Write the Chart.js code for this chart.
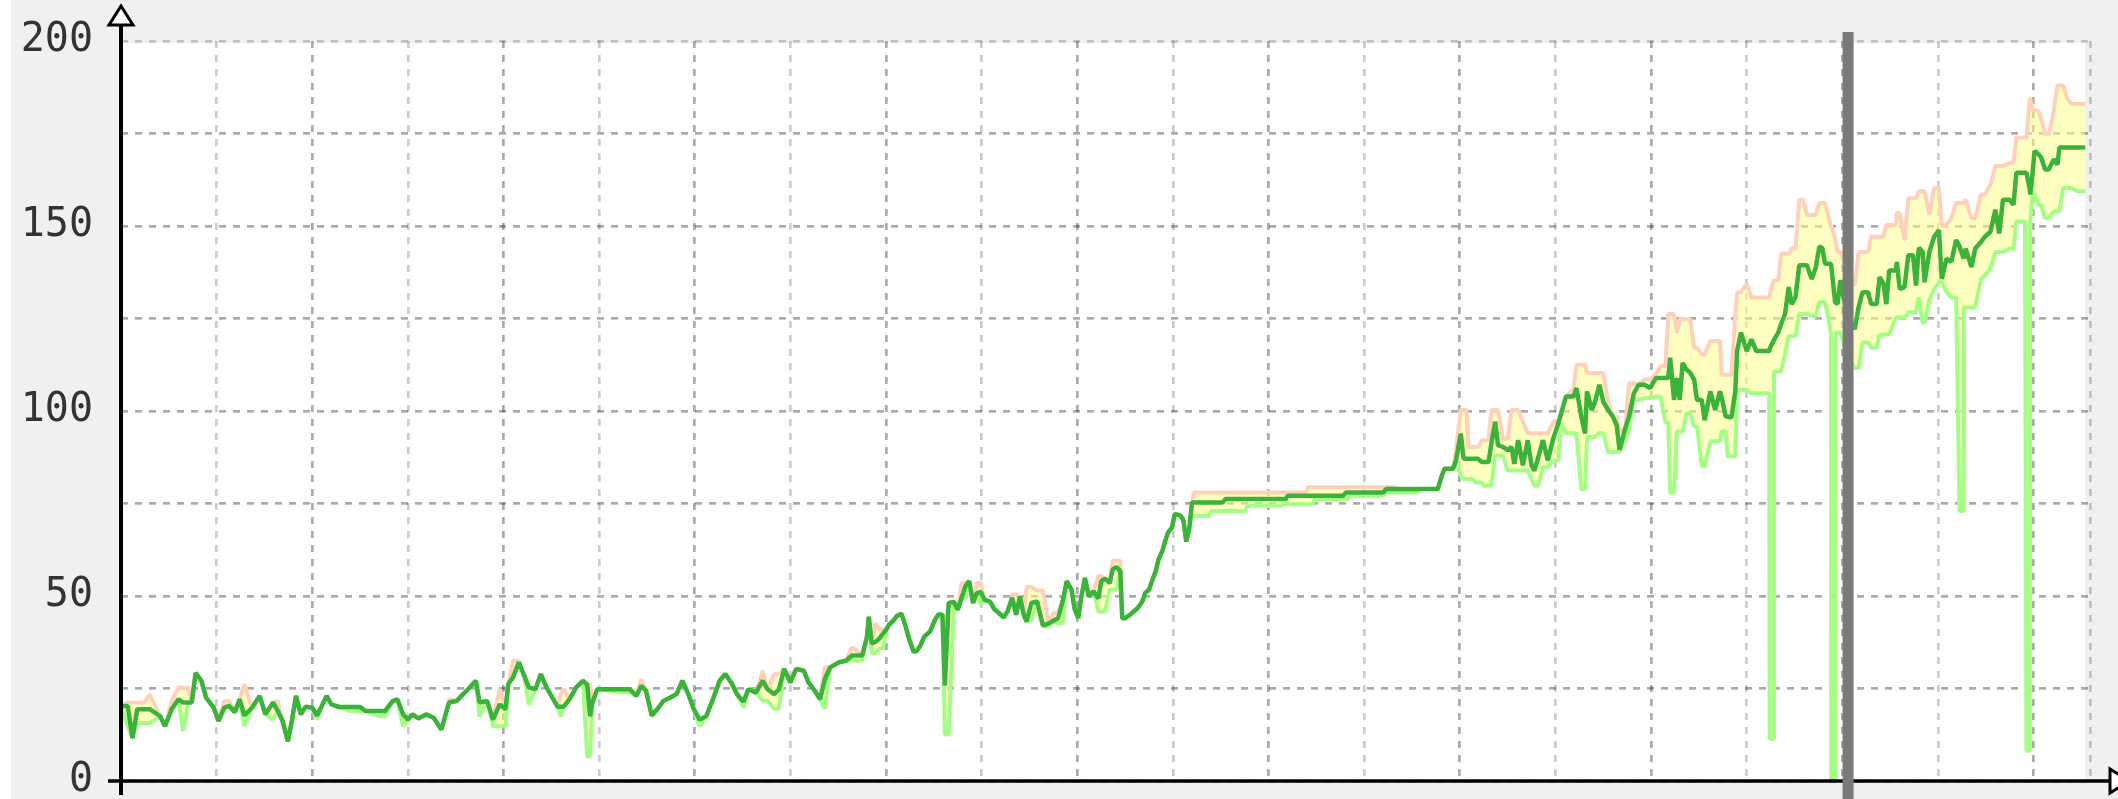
<!DOCTYPE html>
<html>
<head>
<meta charset="utf-8">
<script src="https://cdn.jsdelivr.net/npm/chart.js@4.4.1/dist/chart.umd.min.js"></script>
<style>
  html, body { margin: 0; padding: 0; background: #f0f0f0; }
  #wrap { width: 2118px; height: 799px; }
  canvas { display: block; }
</style>
</head>
<body>
<div id="wrap"><canvas id="chart" width="2118" height="799"></canvas></div>
<script>
// Sample times (one unit = one vertical grid division)
const times = [
  0.00, 0.07, 0.12, 0.17, 0.24, 0.30, 0.41, 0.46, 0.53, 0.60,
  0.65, 0.70, 0.74, 0.78, 0.84, 0.89, 0.97, 1.02, 1.08, 1.13,
  1.19, 1.24, 1.29, 1.37, 1.45, 1.51, 1.59, 1.64, 1.69, 1.745,
  1.79, 1.83, 1.88, 1.93, 2.00, 2.05, 2.10, 2.15, 2.20, 2.28,
  2.40, 2.50, 2.56, 2.70, 2.76, 2.84, 2.89, 2.95, 3.00, 3.05,
  3.11, 3.19, 3.27, 3.35, 3.43, 3.51, 3.56, 3.63, 3.71, 3.75,
  3.83, 3.89, 3.96, 4.02, 4.05, 4.10, 4.16, 4.21, 4.265, 4.335,
  4.39, 4.45, 4.50, 4.565, 4.60, 4.63, 4.69, 4.76, 4.83, 4.875,
  4.905, 4.93, 4.98, 5.22, 5.32, 5.39, 5.44, 5.49, 5.55, 5.62,
  5.67, 5.74, 5.81, 5.87, 5.94, 5.99, 6.05, 6.12, 6.19, 6.26,
  6.32, 6.39, 6.44, 6.51, 6.56, 6.64, 6.71, 6.76, 6.83, 6.88,
  6.935, 7.00, 7.06, 7.14, 7.19, 7.255, 7.31, 7.36, 7.415, 7.51,
  7.58, 7.645, 7.75, 7.80, 7.82, 7.85, 7.89, 7.93, 7.97, 8.00,
  8.03, 8.08, 8.11, 8.16, 8.20, 8.25, 8.29, 8.32, 8.36, 8.40,
  8.46, 8.51, 8.55, 8.59, 8.615, 8.655, 8.71, 8.75, 8.79, 8.83,
  8.87, 8.91, 8.95, 8.99, 9.03, 9.09, 9.13, 9.18, 9.23, 9.27,
  9.32, 9.36, 9.40, 9.44, 9.47, 9.52, 9.58, 9.64, 9.70, 9.75,
  9.80, 9.85, 9.89, 9.94, 9.97, 10.01, 10.04, 10.08, 10.12, 10.17,
  10.22, 10.25, 10.29, 10.34, 10.37, 10.41, 10.45, 10.47, 10.50, 10.55,
  10.59, 10.63, 10.68, 10.71, 10.75, 10.78, 10.82, 10.85, 10.89, 10.92,
  10.95, 10.99, 11.02, 11.08, 11.11, 11.14, 11.17, 11.20, 11.22, 11.38,
  11.40, 11.52, 11.55, 11.76, 11.78, 12.13, 12.15, 12.18, 12.20, 12.39,
  12.41, 12.46, 12.48, 12.78, 12.81, 12.83, 12.85, 13.20, 13.23, 13.32,
  13.34, 13.55, 13.57, 13.77, 13.80, 13.84, 13.93, 13.96, 14.01, 14.04,
  14.07, 14.09, 14.14, 14.16, 14.19, 14.23, 14.25, 14.30, 14.33, 14.37,
  14.40, 14.45, 14.50, 14.54, 14.57, 14.61, 14.66, 14.71, 14.75, 14.78,
  14.82, 14.87, 14.92, 14.98, 15.03, 15.06, 15.11, 15.19, 15.22, 15.27,
  15.31, 15.33, 15.38, 15.41, 15.46, 15.50, 15.55, 15.60, 15.64, 15.67,
  15.73, 15.77, 15.82, 15.87, 15.93, 15.99, 16.05, 16.10, 16.15, 16.18,
  16.20, 16.24, 16.27, 16.30, 16.33, 16.37, 16.41, 16.45, 16.48, 16.53,
  16.56, 16.62, 16.67, 16.72, 16.74, 16.78, 16.80, 16.84, 16.88, 16.90,
  16.94, 17.00, 17.05, 17.10, 17.235, 17.24, 17.28, 17.285, 17.33, 17.36,
  17.40, 17.44, 17.47, 17.51, 17.55, 17.59, 17.63, 17.68, 17.72, 17.76,
  17.79, 17.82, 17.88, 17.885, 17.925, 17.93, 17.95, 17.98, 18.05, 18.13,
  18.17, 18.21, 18.27, 18.30, 18.36, 18.39, 18.43, 18.46, 18.49, 18.56,
  18.57, 18.60, 18.65, 18.69, 18.74, 18.77, 18.80, 18.84, 18.86, 18.91,
  18.96, 19.01, 19.04, 19.09, 19.14, 19.19, 19.225, 19.265, 19.27, 19.29,
  19.35, 19.39, 19.45, 19.49, 19.55, 19.60, 19.64, 19.68, 19.75, 19.79,
  19.82, 19.91, 19.925, 19.96, 19.965, 19.99, 20.01, 20.05, 20.08, 20.12,
  20.16, 20.21, 20.25, 20.27, 20.31, 20.35, 20.40, 20.46, 20.54
];

// Average per sample
const avgValues = [
  20.3, 20.3, 11.6, 19.4, 19.4, 19.4, 17.5, 14.8, 19.4, 22.1,
  21.2, 21.2, 21.2, 29.2, 27.1, 22.5, 19.8, 16.2, 19.8, 20.3,
  18.6, 22.1, 17.7, 19.8, 23.0, 18.0, 21.2, 18.9, 16.2, 10.7,
  16.8, 23.0, 18.0, 20.1, 19.8, 17.7, 20.3, 23.0, 20.7, 20.0,
  20.0, 20.0, 18.9, 18.9, 18.9, 21.6, 22.1, 18.0, 16.6, 18.0,
  16.9, 18.0, 17.1, 13.9, 21.2, 21.6, 23.0, 24.8, 27.1, 21.2,
  21.6, 16.6, 20.7, 19.4, 26.2, 28.0, 32.1, 28.9, 25.3, 24.8,
  28.9, 25.3, 23.0, 20.1, 20.1, 20.1, 22.1, 25.3, 27.1, 26.0,
  17.5, 21.2, 24.8, 24.8, 24.8, 23.0, 25.7, 24.4, 17.7, 19.8,
  21.6, 22.5, 23.5, 27.1, 23.0, 19.4, 16.6, 17.5, 22.1, 27.1,
  28.9, 26.2, 23.5, 21.4, 24.8, 23.9, 27.1, 24.8, 23.5, 24.8,
  30.3, 26.6, 30.3, 29.8, 26.6, 24.4, 22.1, 27.5, 30.7, 32.1,
  32.5, 33.9, 33.9, 38.9, 44.4, 37.2, 37.6, 38.5, 39.9, 40.8,
  42.2, 43.5, 44.5, 45.2, 42.2, 37.6, 34.9, 35.1, 36.7, 39.0,
  40.4, 43.5, 45.1, 44.9, 25.8, 48.1, 48.4, 46.3, 49.5, 52.6,
  54.0, 48.1, 50.8, 51.1, 49.0, 48.4, 46.5, 45.4, 44.2, 45.8,
  49.5, 44.9, 49.9, 44.9, 43.1, 48.1, 48.5, 42.0, 42.6, 43.3,
  44.0, 49.0, 54.0, 51.7, 46.7, 44.0, 49.5, 54.9, 49.9, 51.3,
  49.3, 54.0, 54.7, 53.5, 57.2, 57.8, 56.7, 44.0, 44.0, 44.9,
  45.8, 46.7, 48.5, 50.8, 51.7, 54.0, 56.7, 59.9, 62.2, 64.9,
  67.2, 68.5, 72.2, 71.7, 70.4, 64.7, 68.1, 75.3, 75.3, 75.3,
  75.3, 75.3, 76.2, 76.2, 76.2, 76.2, 76.2, 76.2, 77.1, 77.1,
  77.1, 77.1, 77.1, 77.1, 78.0, 78.0, 78.0, 78.0, 78.9, 78.9,
  78.9, 78.9, 78.9, 78.9, 81.6, 84.4, 84.4, 86.6, 93.9, 87.1,
  87.1, 87.1, 87.1, 87.1, 87.1, 86.2, 86.2, 86.2, 91.2, 97.1,
  90.7, 90.3, 89.4, 90.3, 85.7, 92.1, 85.3, 92.1, 85.3, 83.9,
  87.5, 92.1, 86.6, 92.8, 96.6, 99.4, 103.9, 103.9, 106.2, 98.5,
  93.9, 105.3, 100.3, 102.1, 107.1, 102.5, 100.3, 98.5, 96.2, 89.5,
  95.3, 98.5, 104.8, 107.1, 107.1, 106.2, 108.9, 108.9, 108.9, 108.9,
  114.4, 103.0, 108.9, 103.0, 113.0, 111.2, 110.3, 108.5, 103.0, 103.0,
  97.5, 105.3, 100.3, 105.3, 103.5, 98.5, 98.5, 98.2, 105.3, 116.2,
  121.2, 116.2, 119.4, 116.2, 116.2, 116.8, 118.9, 119.2, 121.2, 123.5,
  126.2, 133.5, 128.9, 130.7, 139.4, 139.4, 139.4, 135.7, 138.5, 144.4,
  144.1, 139.8, 139.8, 139.0, 129.4, 129.4, 128.9, 135.3, 126.0, 122.1,
  128.0, 132.1, 132.1, 128.9, 128.9, 136.2, 134.4, 128.9, 138.0, 138.0,
  140.3, 133.0, 133.5, 142.1, 142.1, 133.9, 144.1, 143.0, 134.8, 143.0,
  147.1, 148.9, 135.7, 141.2, 140.3, 146.2, 144.5, 141.5, 141.2, 143.9,
  138.9, 143.9, 145.7, 147.1, 148.5, 154.4, 148.0, 157.1, 157.1, 155.7,
  164.4, 164.4, 164.4, 160.0, 158.5, 164.4, 170.3, 169.4, 168.5, 165.3,
  165.3, 168.0, 166.6, 171.2, 171.2, 171.2, 171.2, 171.2, 171.2
];

// Maximum per sample
const maxValues = [
  20.3, 21.2, 21.2, 21.2, 21.2, 23.5, 17.5, 14.8, 21.6, 25.3,
  25.3, 25.3, 21.2, 29.2, 27.1, 22.5, 19.8, 16.2, 21.6, 21.6,
  18.6, 22.1, 26.2, 19.8, 23.0, 18.0, 21.2, 21.6, 16.2, 10.7,
  16.8, 23.0, 18.0, 20.1, 19.8, 17.7, 20.3, 23.0, 20.7, 20.0,
  20.0, 20.0, 18.9, 18.9, 18.9, 21.6, 22.1, 18.0, 16.6, 18.0,
  16.9, 18.0, 17.1, 13.9, 22.1, 21.6, 23.0, 24.8, 27.1, 21.2,
  21.6, 16.6, 24.8, 19.4, 26.2, 32.5, 32.5, 28.9, 25.3, 24.8,
  28.9, 25.3, 23.0, 20.1, 23.5, 24.8, 22.1, 25.3, 27.1, 26.2,
  26.2, 21.2, 24.8, 24.8, 24.8, 23.0, 27.5, 24.4, 17.7, 19.8,
  21.6, 22.5, 23.5, 27.1, 23.0, 19.4, 16.6, 17.5, 22.1, 27.1,
  28.9, 26.2, 23.5, 21.4, 24.8, 23.9, 29.8, 24.8, 28.9, 28.9,
  30.3, 26.6, 30.3, 29.8, 26.6, 24.4, 22.1, 30.7, 30.7, 32.1,
  32.5, 36.2, 33.9, 38.9, 44.4, 37.2, 42.6, 41.0, 41.0, 40.8,
  42.2, 43.5, 44.5, 45.2, 42.2, 37.6, 34.9, 35.1, 36.7, 39.0,
  40.4, 43.5, 45.1, 44.9, 42.6, 48.1, 48.4, 46.3, 53.5, 53.5,
  54.0, 48.1, 53.5, 53.5, 49.0, 48.4, 46.5, 45.4, 44.2, 45.8,
  50.4, 50.4, 49.9, 44.9, 52.4, 52.4, 51.5, 51.5, 42.6, 45.4,
  45.4, 49.0, 54.0, 51.7, 46.7, 44.0, 49.5, 54.9, 49.9, 51.3,
  55.4, 55.4, 54.7, 53.5, 59.5, 59.5, 59.5, 44.0, 44.0, 44.9,
  45.8, 46.7, 48.5, 50.8, 51.7, 54.0, 56.7, 59.9, 62.2, 64.9,
  67.2, 68.5, 72.2, 71.7, 70.4, 64.7, 68.1, 75.3, 78.0, 78.0,
  78.0, 78.0, 78.0, 78.0, 78.0, 78.0, 78.0, 78.0, 78.0, 78.0,
  79.4, 79.4, 79.4, 79.4, 79.4, 79.4, 79.4, 79.4, 79.4, 79.4,
  78.9, 78.9, 78.9, 78.9, 81.6, 84.4, 84.4, 89.4, 100.3, 100.3,
  100.3, 90.3, 90.3, 90.3, 90.3, 92.1, 92.1, 92.1, 100.3, 100.3,
  100.3, 92.5, 92.5, 100.3, 100.3, 100.3, 97.1, 94.0, 94.0, 94.0,
  94.0, 94.0, 94.0, 97.1, 97.1, 99.4, 103.9, 106.0, 112.5, 112.5,
  112.5, 110.3, 110.3, 110.3, 110.3, 110.3, 102.5, 98.5, 98.5, 94.4,
  95.3, 107.5, 107.5, 107.1, 108.5, 108.5, 110.0, 112.1, 112.1, 126.2,
  126.2, 126.2, 121.2, 124.8, 124.8, 124.8, 124.8, 117.1, 117.1, 115.3,
  115.3, 118.9, 118.9, 118.9, 109.8, 109.8, 109.8, 109.8, 125.7, 132.1,
  132.1, 134.4, 130.7, 130.7, 130.7, 130.7, 135.3, 135.3, 135.3, 142.5,
  142.5, 142.5, 143.9, 143.9, 157.1, 157.1, 153.0, 153.0, 153.0, 156.2,
  156.2, 156.2, 150.0, 150.0, 146.6, 146.6, 143.0, 143.0, 138.0, 133.9,
  143.0, 143.0, 143.0, 147.1, 147.1, 147.1, 147.1, 150.3, 150.3, 150.3,
  153.5, 153.5, 146.2, 157.5, 157.5, 157.5, 159.4, 159.4, 159.4, 153.0,
  160.3, 160.3, 150.3, 150.3, 152.1, 156.2, 156.2, 156.2, 156.2, 157.1,
  152.1, 152.1, 158.5, 158.5, 161.2, 166.2, 166.2, 166.2, 167.1, 167.1,
  173.9, 173.9, 173.9, 184.4, 184.4, 181.2, 181.2, 181.2, 178.9, 174.8,
  174.8, 181.2, 188.0, 188.0, 188.0, 184.4, 183.0, 183.0, 183.0
];

// Minimum per sample
const minValues = [
  20.3, 14.8, 11.6, 15.7, 15.7, 15.7, 17.5, 14.8, 19.4, 22.1,
  13.5, 21.2, 21.2, 29.2, 27.1, 22.5, 19.8, 16.2, 19.8, 20.3,
  18.6, 22.1, 14.8, 19.8, 23.0, 18.0, 16.6, 18.9, 16.2, 10.7,
  16.8, 23.0, 18.0, 20.1, 19.8, 16.6, 20.3, 23.0, 20.7, 20.0,
  18.9, 18.9, 18.9, 17.5, 17.5, 21.6, 22.1, 14.8, 16.6, 18.0,
  16.9, 18.0, 17.1, 13.9, 21.2, 21.6, 23.0, 24.8, 27.1, 17.5,
  21.6, 14.8, 14.8, 14.8, 26.2, 28.0, 32.1, 28.9, 20.7, 24.8,
  28.9, 25.3, 23.0, 20.1, 17.5, 20.1, 22.1, 25.3, 27.1, 6.6,
  6.6, 21.2, 24.8, 24.0, 24.0, 23.0, 25.7, 24.4, 17.5, 19.8,
  21.6, 22.5, 23.5, 27.1, 23.0, 19.4, 14.8, 17.5, 22.1, 27.1,
  28.9, 26.2, 23.5, 19.9, 24.8, 23.9, 21.7, 21.7, 19.5, 19.5,
  30.3, 26.6, 30.3, 29.8, 26.6, 24.4, 22.1, 19.5, 30.7, 32.1,
  32.5, 32.6, 32.6, 38.9, 44.4, 34.5, 34.5, 35.8, 35.8, 40.8,
  42.2, 43.5, 44.5, 45.2, 42.2, 37.6, 34.9, 35.1, 36.7, 39.0,
  40.4, 43.5, 45.1, 44.9, 12.6, 12.6, 48.4, 46.3, 49.5, 49.5,
  54.0, 48.1, 50.8, 47.6, 49.0, 48.4, 46.5, 45.4, 44.2, 45.8,
  49.5, 44.9, 49.9, 44.9, 43.1, 43.5, 48.5, 42.0, 41.7, 43.3,
  42.6, 42.6, 54.0, 51.7, 46.7, 44.0, 49.5, 54.9, 49.9, 51.3,
  45.8, 45.8, 45.8, 51.7, 51.7, 51.7, 56.7, 44.0, 44.0, 44.9,
  45.8, 46.7, 48.5, 50.8, 51.7, 54.0, 56.7, 59.9, 62.2, 64.9,
  67.2, 68.5, 72.2, 71.7, 70.4, 64.7, 68.1, 71.7, 71.6, 71.6,
  73.0, 73.0, 73.0, 73.0, 74.4, 74.4, 74.8, 74.8, 74.8, 74.8,
  74.8, 74.8, 76.2, 76.2, 76.2, 76.2, 77.1, 77.1, 78.0, 78.0,
  78.0, 78.0, 78.9, 78.9, 81.6, 84.4, 84.4, 86.6, 82.5, 81.6,
  81.6, 81.6, 81.6, 80.7, 80.7, 80.7, 79.8, 79.8, 79.8, 88.0,
  88.0, 88.0, 83.9, 83.9, 83.9, 83.9, 83.9, 83.9, 81.6, 79.8,
  79.8, 84.8, 84.8, 86.6, 86.6, 96.6, 94.0, 94.0, 94.0, 78.9,
  78.9, 93.0, 93.0, 93.0, 94.0, 94.0, 88.9, 88.9, 88.9, 88.9,
  92.1, 95.0, 103.0, 103.0, 103.5, 103.5, 103.9, 103.9, 96.9, 96.9,
  77.9, 77.9, 94.5, 94.5, 94.5, 99.3, 99.3, 95.8, 95.8, 85.1,
  85.1, 91.8, 91.8, 91.8, 94.5, 94.5, 87.8, 87.8, 87.8, 105.7,
  105.7, 105.7, 104.8, 104.8, 104.8, 11.4, 11.4, 110.7, 110.7, 110.7,
  115.3, 120.3, 120.3, 120.3, 126.2, 126.2, 126.2, 125.7, 125.7, 129.4,
  129.4, 129.4, 121.2, 0.5, 0.5, 121.2, 121.2, 121.2, 115.0, 111.6,
  111.6, 118.5, 118.5, 117.1, 117.1, 120.7, 120.7, 120.7, 120.7, 125.3,
  125.3, 125.3, 125.3, 126.6, 126.6, 126.6, 130.7, 123.9, 123.9, 130.0,
  133.0, 134.8, 134.8, 132.1, 130.7, 130.7, 72.9, 72.9, 128.0, 128.0,
  128.0, 128.0, 135.7, 136.6, 138.5, 143.0, 143.0, 143.0, 143.9, 143.9,
  151.2, 151.2, 8.2, 8.2, 151.2, 158.5, 158.5, 155.7, 155.7, 152.1,
  152.1, 153.9, 153.9, 153.9, 160.3, 160.3, 160.3, 159.4, 159.4
];

// Axis ticks and labels
const yTickValues = [0, 25, 50, 75, 100, 125, 150, 175, 200];
const yTickLabels = [0, 50, 100, 150, 200];
const xGridValues = [0, 1, 2, 3, 4, 5, 6, 7, 8, 9, 10, 11, 12, 13, 14, 15, 16, 17, 18, 19, 20];
const xEnd = 20.59;
const nowMarker = 18.06;

const toPoints = vals => times.map((t, i) => ({ x: t, y: vals[i] }));

const LIGHT_GRID = 'rgba(0,0,0,0.20)';
const DARK_GRID = 'rgba(0,0,0,0.33)';

// Canvas backdrop: light grey frame, white plotting area
const backdrop = {
  id: 'backdrop',
  beforeDraw(chart) {
    const { ctx, chartArea: a } = chart;
    ctx.save();
    ctx.fillStyle = '#f0f0f0';
    ctx.fillRect(0, 0, chart.width, chart.height);
    ctx.fillStyle = '#ffffff';
    ctx.fillRect(0, 0, 11, chart.height);
    ctx.fillRect(a.left, a.top + 2, a.right - 5 - a.left, a.bottom - a.top - 2);
    ctx.restore();
  }
};

// Axis lines with arrow heads, plus the "now" rule
const axesAndRule = {
  id: 'axesAndRule',
  afterDraw(chart) {
    const { ctx, chartArea: a, scales } = chart;
    ctx.save();
    ctx.strokeStyle = '#000';
    ctx.lineCap = 'butt';
    ctx.lineJoin = 'miter';

    ctx.lineWidth = 4;
    ctx.beginPath();
    ctx.moveTo(a.left, a.top - 16);
    ctx.lineTo(a.left, a.bottom + 14);
    ctx.stroke();

    ctx.lineWidth = 3.6;
    ctx.beginPath();
    ctx.moveTo(a.left - 13, a.bottom);
    ctx.lineTo(a.right + 20, a.bottom);
    ctx.stroke();

    ctx.fillStyle = '#fff';
    ctx.lineWidth = 3;
    ctx.beginPath();
    ctx.moveTo(a.left, a.top - 35);
    ctx.lineTo(a.left + 12, a.top - 16);
    ctx.lineTo(a.left - 12, a.top - 16);
    ctx.closePath();
    ctx.fill();
    ctx.stroke();

    const ax = a.right + 20;
    ctx.beginPath();
    ctx.moveTo(ax, a.bottom - 12);
    ctx.lineTo(ax + 19, a.bottom);
    ctx.lineTo(ax, a.bottom + 12);
    ctx.closePath();
    ctx.fill();
    ctx.stroke();

    const mx = scales.x.getPixelForValue(nowMarker);
    ctx.fillStyle = '#7a7a7a';
    ctx.fillRect(mx - 5.5, a.top - 9, 11, chart.height - (a.top - 9));
    ctx.restore();
  }
};

new Chart(document.getElementById('chart'), {
  type: 'line',
  data: {
    datasets: [
      {
        label: 'average',
        data: toPoints(avgValues),
        borderColor: '#3bb33b',
        borderWidth: 4.5,
        fill: false,
        order: 0
      },
      {
        label: 'minimum',
        data: toPoints(minValues),
        borderColor: '#a2ff84',
        borderWidth: 4,
        fill: false,
        order: 1
      },
      {
        label: 'maximum',
        data: toPoints(maxValues),
        borderColor: '#ffd1b9',
        borderWidth: 4,
        backgroundColor: 'rgba(255,255,128,0.5)',
        fill: { target: 1 },
        order: 2
      }
    ]
  },
  options: {
    responsive: false,
    animation: false,
    devicePixelRatio: 1,
    layout: { padding: { left: 0, top: 41, right: 28, bottom: 0 } },
    elements: {
      point: { radius: 0, hoverRadius: 0 },
      line: { tension: 0, borderJoinStyle: 'bevel', borderCapStyle: 'butt' }
    },
    plugins: {
      legend: { display: false },
      tooltip: { enabled: false },
      filler: { propagate: false }
    },
    scales: {
      x: {
        type: 'linear',
        min: 0,
        max: xEnd,
        afterBuildTicks(scale) {
          scale.ticks = xGridValues.concat([xEnd]).map(v => ({ value: v }));
        },
        afterFit(scale) {
          scale.height = 18;
          scale.paddingLeft = 0;
          scale.paddingRight = 0;
        },
        ticks: { display: false },
        grid: {
          drawTicks: false,
          lineWidth: 2.7,
          color(ctx) {
            const v = ctx.tick ? ctx.tick.value : 0;
            return (Number.isInteger(v) && v % 2 === 0) ? DARK_GRID : LIGHT_GRID;
          }
        },
        border: { display: false, dash: [7, 7] }
      },
      y: {
        min: 0,
        max: 200,
        afterBuildTicks(scale) {
          scale.ticks = yTickValues.map(v => ({ value: v }));
        },
        afterFit(scale) {
          scale.width = 121;
          scale.paddingTop = 0;
          scale.paddingBottom = 0;
        },
        ticks: {
          padding: 28,
          color: '#333',
          font: { family: "'DejaVu Sans Mono', monospace", size: 40, lineHeight: 0.8 },
          callback: v => (yTickLabels.includes(v) ? String(v) : '')
        },
        grid: {
          drawTicks: false,
          lineWidth: 2.7,
          color(ctx) {
            const v = ctx.tick ? ctx.tick.value : 0;
            return v === 200 ? LIGHT_GRID : DARK_GRID;
          }
        },
        border: { display: false, dash: [7, 7] }
      }
    }
  },
  plugins: [backdrop, axesAndRule]
});
</script>
</body>
</html>
